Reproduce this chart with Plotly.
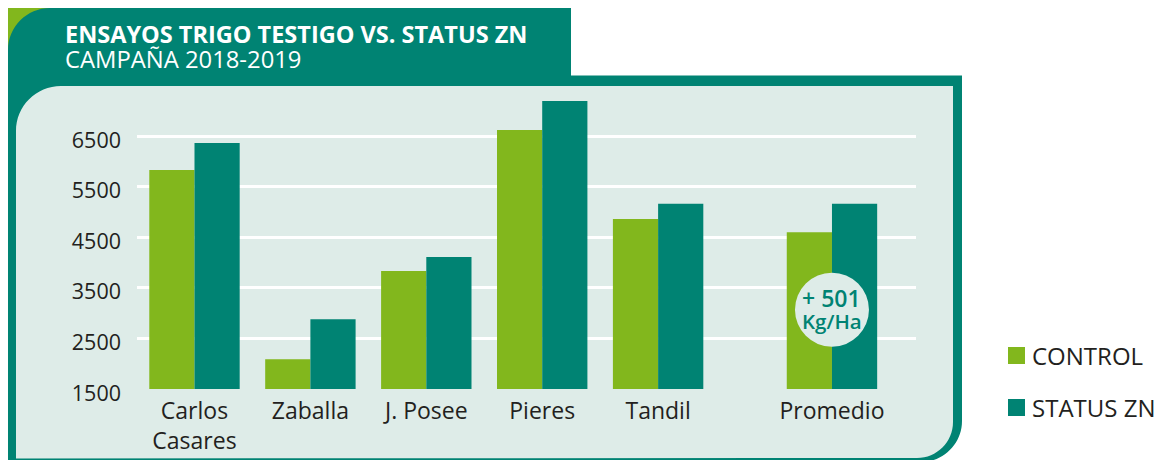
import plotly.graph_objects as go

# ---------------- data ----------------
categories = ["Carlos<br>Casares", "Zaballa", "J. Posee", "Pieres", "Tandil", "Promedio"]
positions = [0, 1, 2, 3, 4, 5.5]
control = [5830, 2090, 3830, 6620, 4860, 4600]
status_zn = [6360, 2880, 4110, 7190, 5160, 5160]
series_names = ["CONTROL", "STATUS ZN"]
y_ticks = [1500, 2500, 3500, 4500, 5500, 6500]
title = "ENSAYOS TRIGO TESTIGO VS. STATUS ZN"
subtitle = "CAMPAÑA 2018-2019"
badge_lines = ["+ 501", "Kg/Ha"]

# ---------------- style ----------------
TEAL = "#008373"
GREEN = "#82B71D"
PANEL = "#DEECE8"
TXT = "#231F20"
FONT = "Open Sans"

W, H = 1163, 460
L, R, T, B = 137, 247, 95, 71
PW = W - L - R
PH = H - T - B


def px(x):
    return (x - L) / PW


def py(y):
    return (H - B - y) / PH


K = 0.5523


def build_path(cmds):
    out = []
    for c in cmds:
        if c[0] == "Z":
            out.append("Z")
        else:
            pts = c[1:]
            coords = []
            for i in range(0, len(pts), 2):
                coords.append(f"{px(pts[i]):.5f},{py(pts[i+1]):.5f}")
            out.append(c[0] + " " + " ".join(coords))
    return " ".join(out)


def corner_tl(x0, y0, r):
    return ("C", x0, y0 + r * (1 - K), x0 + r * (1 - K), y0, x0 + r, y0)


def corner_br(x1, y1, r):
    return ("C", x1, y1 - r * (1 - K), x1 - r * (1 - K), y1, x1 - r, y1)


outer = build_path([
    ("M", 8, 463), ("L", 8, 50), corner_tl(8, 8, 42),
    ("L", 571, 8), ("L", 571, 75.5), ("L", 962, 75.5),
    ("L", 962, 421), corner_br(962, 462, 41), ("L", 8, 462), ("Z",)
])
inner = build_path([
    ("M", 16, 458.5), ("L", 16, 131), corner_tl(16, 86, 45),
    ("L", 953, 86), ("L", 953, 422), corner_br(953, 458, 36),
    ("L", 16, 458.5), ("Z",)
])
green = build_path([("M", 8, 8), ("L", 52, 8), ("L", 52, 52), ("L", 8, 52), ("Z",)])

shapes = [
    dict(type="path", xref="paper", yref="paper", path=green, fillcolor=GREEN,
         line=dict(width=0), layer="below"),
    dict(type="path", xref="paper", yref="paper", path=outer, fillcolor=TEAL,
         line=dict(width=0), layer="below"),
    dict(type="path", xref="paper", yref="paper", path=inner, fillcolor=PANEL,
         line=dict(width=0), layer="below"),
]

fig = go.Figure()
colors = [GREEN, TEAL]
for name, vals, col in zip(series_names, [control, status_zn], colors):
    fig.add_trace(go.Bar(x=positions, y=vals, name=name, marker=dict(color=col, line=dict(width=0)),
                         showlegend=False, hoverinfo="x+y+name"))

# badge circle on Promedio
badge_y = 1500 + (H - B - 309.7) * 5000 / 253
shapes.append(dict(type="circle", xref="x", yref="y", xsizemode="pixel", ysizemode="pixel",
                   xanchor=positions[-1], yanchor=badge_y, x0=-37, x1=37, y0=-37, y1=37,
                   fillcolor=PANEL, line=dict(width=0), layer="above"))

annotations = [
    dict(xref="paper", yref="paper", x=px(63), y=py(34), xanchor="left", yanchor="middle",
         text=title, showarrow=False,
         font=dict(family=FONT, size=23.5, color="white", weight=700)),
    dict(xref="paper", yref="paper", x=px(63), y=py(59), xanchor="left", yanchor="middle",
         text=subtitle, showarrow=False,
         font=dict(family=FONT, size=23.8, color="white", weight=400)),
    dict(xref="x", yref="y", x=positions[-1], y=badge_y, yshift=12, text=badge_lines[0],
         showarrow=False, font=dict(family=FONT, size=23, color=TEAL, weight=600)),
    dict(xref="x", yref="y", x=positions[-1], y=badge_y, yshift=-11, text=badge_lines[1],
         showarrow=False, font=dict(family=FONT, size=20.5, color=TEAL, weight=600)),
]

# legend (manual, larger squares)
leg_y = [355.5, 407.5]
for name, col, yy in zip(series_names, colors, leg_y):
    shapes.append(dict(type="rect", xref="paper", yref="paper",
                       x0=px(1008), x1=px(1025), y0=py(yy - 8.5), y1=py(yy + 8.5),
                       fillcolor=col, line=dict(width=0)))
    annotations.append(dict(xref="paper", yref="paper", x=px(1030), y=py(yy), xanchor="left",
                            yanchor="middle", text=name, showarrow=False,
                            font=dict(family=FONT, size=24, color=TXT, weight=400)))

fig.update_layout(
    width=W, height=H, autosize=False,
    margin=dict(l=L, r=R, t=T, b=B, pad=0, autoexpand=False),
    paper_bgcolor="white", plot_bgcolor="rgba(0,0,0,0)",
    barmode="group", bargap=0.22, bargroupgap=0,
    shapes=shapes, annotations=annotations,
    font=dict(family=FONT, color=TXT),
    xaxis=dict(range=[-0.496, 6.225], tickvals=positions, ticktext=categories,
               showgrid=False, zeroline=False, showline=False, ticks="", automargin=False,
               tickfont=dict(family=FONT, size=23, color=TXT), ticklabelstandoff=6,
               fixedrange=True),
    yaxis=dict(range=[1500, 1500 + PH * 5000 / 253], tickvals=y_ticks,
               ticktext=[str(v) for v in y_ticks], automargin=False,
               showgrid=True, gridcolor="white", gridwidth=2.5, zeroline=False,
               showline=False, ticks="", ticklabelstandoff=15, ticklabelshift=4,
               tickfont=dict(family=FONT, size=21.5, color=TXT), fixedrange=True),
)

fig.write_html("out.html", config={"displayModeBar": False},
               post_script="document.body.style.margin='0';document.body.style.overflow='hidden';")
